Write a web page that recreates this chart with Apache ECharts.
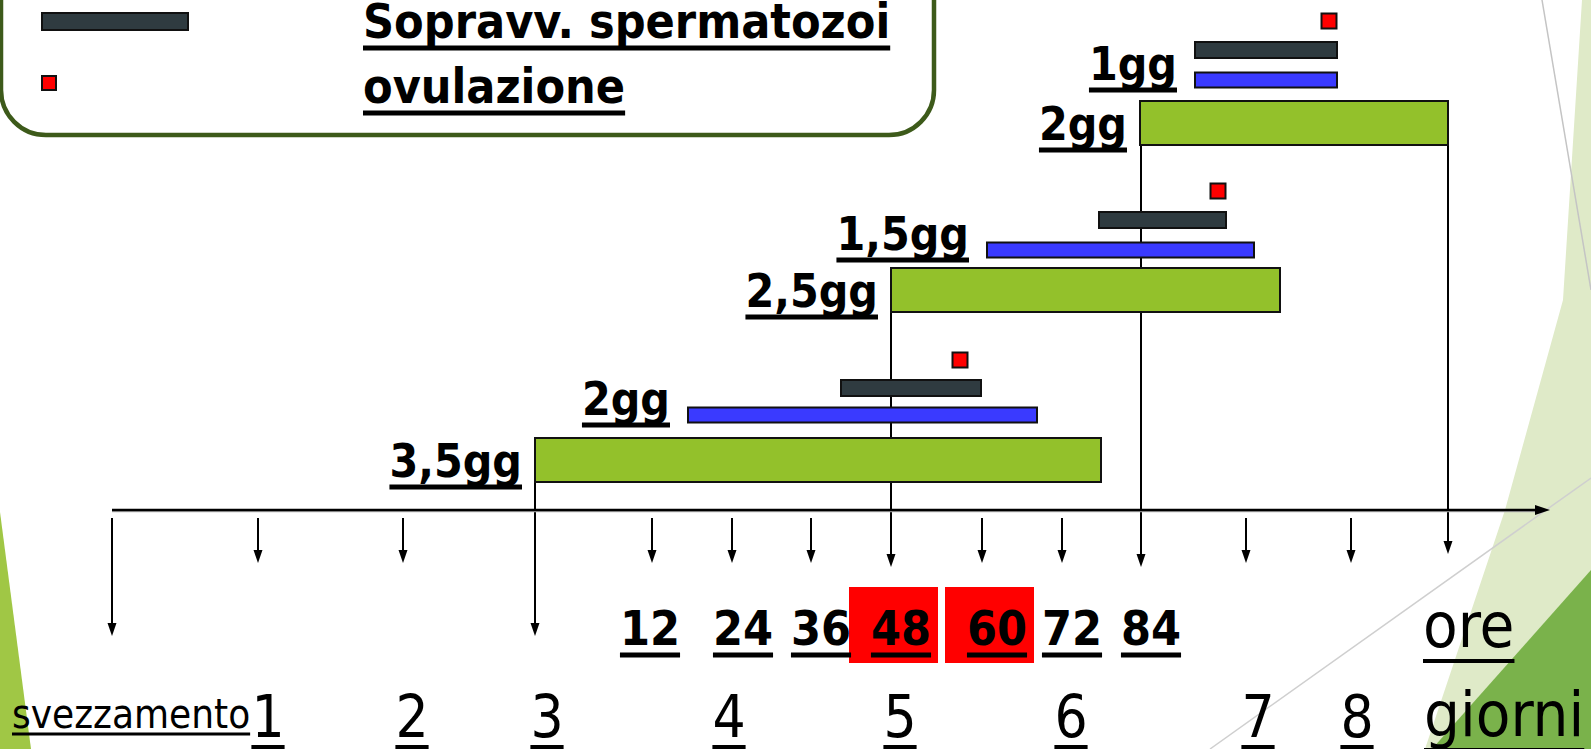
<!DOCTYPE html>
<html>
<head>
<meta charset="utf-8">
<title>Sopravvivenza spermatozoi e ovulazione</title>
<script src="https://cdn.jsdelivr.net/npm/echarts@6/dist/echarts.min.js"></script>
<style>
  html, body { margin: 0; padding: 0; background: #fff; }
  #container { width: 1591px; height: 749px; }
</style>
</head>
<body>
<div id="container"></div>
<script>
const W = 1591
const H = 749
const FONT = "'DejaVu Sans Condensed', 'Liberation Sans Narrow', sans-serif"

// arrows hanging from the time axis: x, where the line starts, where the tip is
const tickX = [112, 258, 403, 535, 652, 732, 811, 891, 982, 1062, 1141, 1246, 1351, 1448]
const tickFrom = [518, 518, 518, 460, 518, 518, 518, 290, 518, 518, 123, 518, 518, 123]
const tickTo = [636, 563, 563, 636, 563, 563, 563, 567, 563, 563, 567, 563, 563, 554]

// axis
const axisStart = 112
const axisEnd = 1550
const axisY = 510

// tick labels
const oreLabels = ['12', '24', '36', '48', '60', '72', '84']
const oreX = [650, 743, 821, 901, 997, 1072, 1151]
const oreRed = ['48', '60']
const giorniLabels = ['1', '2', '3', '4', '5', '6', '7', '8']
const giorniX = [268, 412, 547, 729, 900, 1071, 1258, 1357]

// the three cases, bottom to top
const greenLabels = ['3,5gg', '2,5gg', '2gg']
const greenStart = [535, 891, 1140]
const greenEnd = [1101, 1280, 1448]
const greenY = [460, 290, 123]

const blueLabels = ['2gg', '1,5gg', '1gg']
const blueStart = [688, 987, 1195]
const blueEnd = [1037, 1254, 1337]
const blueY = [415, 250, 80]

const darkStart = [841, 1099, 1195]
const darkEnd = [981, 1226, 1337]
const darkY = [388, 220, 50]

const ovulX = [960, 1218, 1329]
const ovulY = [360, 191, 21]

const GREEN = '#93c12b'
const BLUE = '#3a3aff'
const DARK = '#2f3b40'
const RED = '#ff0000'

const measure = document.createElement('canvas').getContext('2d')
function textWidth(text, f) {
  measure.font = f
  return measure.measureText(text).width
}
function font(weight, size) {
  return weight + ' ' + size + 'px ' + FONT
}

// text with a drawn underline (x,y = anchor on the baseline)
function underlined(text, x, y, o) {
  const f = font(o.weight, o.size)
  const w = textWidth(text, f)
  const left = o.align === 'center' ? x - w / 2 : o.align === 'right' ? x - w : x
  return [
    {
      type: 'text',
      z: o.z || 0,
      style: { text: text, x: x, y: y - o.size * 0.35, font: f, align: o.align, verticalAlign: 'middle', fill: '#000' }
    },
    {
      type: 'rect',
      z: o.z || 0,
      shape: { x: left, y: y + o.gap - o.thick / 2, width: w, height: o.thick },
      style: { fill: '#000' }
    }
  ]
}

function labelSeries(name, labels, xs, ys, o) {
  return {
    type: 'custom',
    name: name,
    z: 5,
    silent: true,
    data: labels.map((t, i) => [xs[i], ys[i]]),
    renderItem(params, api) {
      const p = api.coord([api.value(0), api.value(1)])
      return { type: 'group', children: underlined(labels[params.dataIndex], p[0], p[1], o) }
    }
  }
}

function barSeries(name, starts, ends, ys, color, h) {
  return {
    type: 'custom',
    name: name,
    z: 3,
    silent: true,
    data: starts.map((s, i) => [s, ends[i], ys[i]]),
    renderItem(params, api) {
      const a = api.coord([api.value(0), api.value(2)])
      const b = api.coord([api.value(1), api.value(2)])
      return {
        type: 'rect',
        shape: { x: a[0], y: a[1] - h / 2, width: b[0] - a[0], height: h },
        style: { fill: color, stroke: '#111', lineWidth: 2 }
      }
    }
  }
}

const chart = echarts.init(document.getElementById('container'), null, { renderer: 'svg' })

const legendLabel = { weight: 'bold', size: 48, align: 'left', gap: 10, thick: 5, z: 12 }

const option = {
  animation: false,
  backgroundColor: '#fff',
  grid: { left: 0, right: 0, top: 0, bottom: 0 },
  xAxis: { type: 'value', min: 0, max: W, show: false },
  yAxis: { type: 'value', min: 0, max: H, inverse: true, show: false },
  graphic: [
    // slide decorations
    { type: 'polygon', z: 0, silent: true, shape: { points: [[0, 512], [31, 749], [0, 749]] }, style: { fill: '#a0c745' } },
    { type: 'polygon', z: 0, silent: true, shape: { points: [[1582, 0], [1591, 0], [1591, 749], [1425, 749], [1505, 510], [1563, 300]] }, style: { fill: '#dfeac8' } },
    { type: 'polygon', z: 0, silent: true, shape: { points: [[1591, 570], [1591, 749], [1432, 749]] }, style: { fill: '#7ab24b' } },
    { type: 'line', z: 0, silent: true, shape: { x1: 1542, y1: 0, x2: 1591, y2: 290 }, style: { stroke: '#c4c4c4', lineWidth: 1.5 } },
    { type: 'line', z: 0, silent: true, shape: { x1: 1210, y1: 749, x2: 1591, y2: 478 }, style: { stroke: '#cfcfcf', lineWidth: 1.5 } },
    // legend box
    { type: 'rect', z: 10, silent: true, shape: { x: 1, y: -60, width: 933, height: 195, r: 45 }, style: { fill: 'none', stroke: '#3d5a1a', lineWidth: 4.5 } },
    { type: 'rect', z: 11, silent: true, shape: { x: 42, y: 13, width: 146, height: 17 }, style: { fill: DARK, stroke: '#111', lineWidth: 2 } },
    { type: 'rect', z: 11, silent: true, shape: { x: 42, y: 76, width: 14, height: 14 }, style: { fill: RED, stroke: '#111', lineWidth: 2 } },
    { type: 'group', z: 12, silent: true, children: underlined('Sopravv. spermatozoi', 363, 38, legendLabel) },
    { type: 'group', z: 12, silent: true, children: underlined('ovulazione', 363, 103, legendLabel) }
  ],
  series: [
    {
      type: 'custom',
      name: 'frecce',
      z: 2,
      silent: true,
      data: tickX.map((x, i) => [x, tickFrom[i], tickTo[i]]),
      renderItem(params, api) {
        const a = api.coord([api.value(0), api.value(1)])
        const b = api.coord([api.value(0), api.value(2)])
        return {
          type: 'group',
          children: [
            { type: 'line', shape: { x1: a[0], y1: a[1], x2: b[0], y2: b[1] - 10 }, style: { stroke: '#000', lineWidth: 2 } },
            { type: 'polygon', shape: { points: [[b[0] - 4.5, b[1] - 13], [b[0] + 4.5, b[1] - 13], [b[0], b[1]]] }, style: { fill: '#000' } }
          ]
        }
      }
    },
    {
      type: 'custom',
      name: 'asse',
      z: 2,
      silent: true,
      data: [[axisStart, axisEnd, axisY]],
      renderItem(params, api) {
        const a = api.coord([api.value(0), api.value(2)])
        const b = api.coord([api.value(1), api.value(2)])
        return {
          type: 'group',
          children: [
            { type: 'line', shape: { x1: a[0], y1: a[1] + 1.5, x2: b[0] - 10, y2: b[1] + 1.5 }, style: { stroke: '#b0b0b0', lineWidth: 1.5 } },
            { type: 'line', shape: { x1: a[0], y1: a[1], x2: b[0] - 10, y2: b[1] }, style: { stroke: '#000', lineWidth: 2.5 } },
            { type: 'polygon', shape: { points: [[b[0] - 15, b[1] - 5], [b[0] - 15, b[1] + 5], [b[0], b[1]]] }, style: { fill: '#000' } }
          ]
        }
      }
    },
    {
      type: 'custom',
      name: 'evidenza',
      z: 1,
      silent: true,
      data: oreRed.map(t => [oreX[oreLabels.indexOf(t)], 625]),
      renderItem(params, api) {
        const a = api.coord([api.value(0) - 52, 587])
        const b = api.coord([api.value(0) + 37, 663])
        return { type: 'rect', shape: { x: a[0], y: a[1], width: b[0] - a[0], height: b[1] - a[1] }, style: { fill: RED } }
      }
    },
    barSeries('femmina', greenStart, greenEnd, greenY, GREEN, 44),
    barSeries('ovociti', blueStart, blueEnd, blueY, BLUE, 15),
    barSeries('spermatozoi', darkStart, darkEnd, darkY, DARK, 16),
    {
      type: 'custom',
      name: 'ovulazione',
      z: 4,
      silent: true,
      data: ovulX.map((x, i) => [x, ovulY[i]]),
      renderItem(params, api) {
        const p = api.coord([api.value(0), api.value(1)])
        return { type: 'rect', shape: { x: p[0] - 7.5, y: p[1] - 7.5, width: 15, height: 15 }, style: { fill: RED, stroke: '#111', lineWidth: 2 } }
      }
    },
    labelSeries('etichette verdi', greenLabels, greenStart.map(v => v - 13), greenY.map(v => v + 17),
      { weight: 'bold', size: 46, align: 'right', gap: 10, thick: 5 }),
    labelSeries('etichette blu', blueLabels, blueStart.map(v => v - 18), blueY,
      { weight: 'bold', size: 46, align: 'right', gap: 10, thick: 5 }),
    labelSeries('ore', oreLabels, oreX, oreLabels.map(() => 645),
      { weight: 'bold', size: 48, align: 'center', gap: 10, thick: 5 }),
    labelSeries('giorni', giorniLabels, giorniX, giorniLabels.map(() => 737),
      { weight: 'normal', size: 58, align: 'center', gap: 10, thick: 4 }),
    labelSeries('unita', ['ore', 'giorni'], [1423, 1424], [648, 737],
      { weight: 'normal', size: 63, align: 'left', gap: 13, thick: 4 }),
    labelSeries('inizio', ['svezzamento'], [12], [728],
      { weight: 'normal', size: 40, align: 'left', gap: 6, thick: 3 })
  ]
}

chart.setOption(option)

window.addEventListener('resize', function () {
  chart.resize()
})
</script>
</body>
</html>
